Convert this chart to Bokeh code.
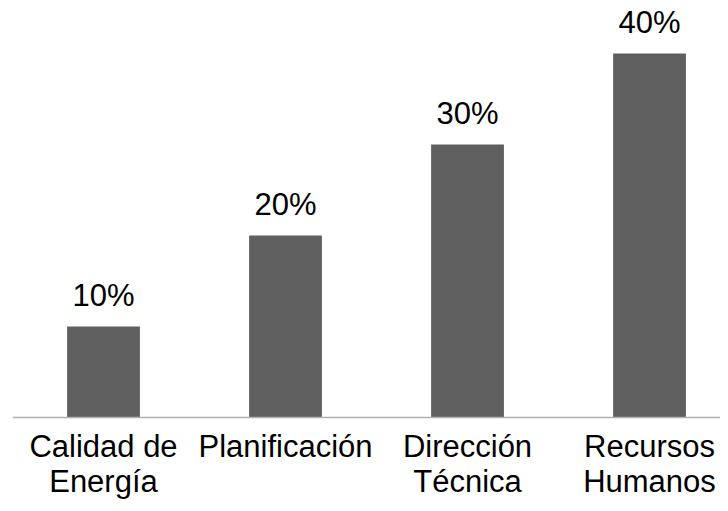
from bokeh.plotting import figure
from bokeh.models import Range1d, FixedTicker, ColumnDataSource
from bokeh.embed import file_html
from bokeh.resources import INLINE
from bokeh.core.properties import value

categories = ["Calidad de\nEnergía", "Planificación", "Dirección\nTécnica", "Recursos\nHumanos"]
values = [10, 20, 30, 40]
labels = ["10%", "20%", "30%", "40%"]

xs = list(range(len(categories)))
src = ColumnDataSource(dict(x=xs, top=values, label=labels))

p = figure(width=720, height=503, output_backend="svg", toolbar_location=None,
           x_range=Range1d(-0.5, 3.39), y_range=Range1d(-9.45, 45.82))
p.min_border_left = 12
p.min_border_right = 0
p.min_border_top = 0
p.min_border_bottom = 0
p.outline_line_color = None
p.grid.visible = False
p.yaxis.visible = False

p.vbar(x="x", top="top", width=0.4, bottom=0, source=src,
       fill_color="#5f5f5f", line_color=None)
p.text(x="x", y="top", text="label", source=src, y_offset=-31,
       text_align="center", text_baseline="alphabetic",
       text_font=value("Liberation Sans"), text_font_size="31px", text_color="#000000")

ax = p.xaxis[0]
ax.fixed_location = 0
ax.ticker = FixedTicker(ticks=xs)
ax.major_label_overrides = {i: c for i, c in zip(xs, categories)}
ax.major_tick_line_color = None
ax.minor_tick_line_color = None
ax.major_tick_out = 0
ax.major_tick_in = 0
ax.axis_line_color = "#b0b0b0"
ax.axis_line_width = 1.5
ax.major_label_standoff = 12
ax.major_label_text_font = "Liberation Sans"
ax.major_label_text_font_size = "31px"
ax.major_label_text_line_height = 1.0
ax.major_label_text_color = "#000000"

open("out.html", "w").write(file_html(p, INLINE))
